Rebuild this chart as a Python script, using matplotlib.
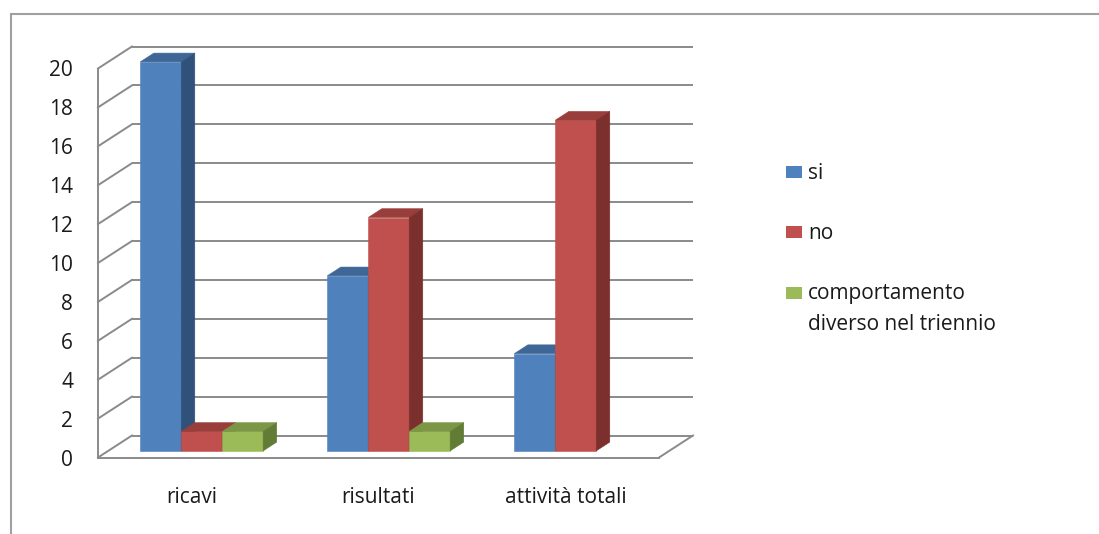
import matplotlib
matplotlib.use("Agg")
import matplotlib.pyplot as plt
from matplotlib.patches import Polygon, Rectangle

# ---- data -------------------------------------------------------------
categories = ["ricavi", "risultati", "attività totali"]
series_names = ["si", "no", "comportamento\ndiverso nel triennio"]
si = [20, 9, 5]
no = [1, 12, 17]
diverso = [1, 1, 0]
y_ticks = [0, 2, 4, 6, 8, 10, 12, 14, 16, 18, 20]

series = [si, no, diverso]
face_colors = ["#4F81BD", "#C0504D", "#9BBB59"]
top_colors = ["#3E6797", "#9A3E3B", "#7B9746"]
side_colors = ["#30517A", "#7C302E", "#617C35"]
grid_color = "#8A8A8A"
text_color = "#1A1A1A"

plt.rcParams["font.family"] = ["Open Sans", "DejaVu Sans"]
FS = 15

W, H = 1099, 534
fig = plt.figure(figsize=(W / 100, H / 100), dpi=100)

# pseudo-3D geometry (in data units): depth of the walls, bar slot
DX, DY = 0.1815, 1.131          # receding offset of the back wall
BAR_FRONT, BAR_BACK = 0.3, 0.7  # bar depth as a fraction of the wall depth
BW = 0.219                      # bar width in category units
Y_TOP = 21.2

# axes placed so that one value unit and one category unit have fixed pixel sizes
ax_left_px, ax_right_px, ax_base_px = 98, 693, 457.5
ax_h_px = Y_TOP * 19.45
ax = fig.add_axes([ax_left_px / W, (H - ax_base_px) / H,
                   (ax_right_px - ax_left_px) / W, ax_h_px / H])
ax.set_xlim(-0.5, len(categories) - 0.5 + DX)
ax.set_ylim(0, Y_TOP)
ax.patch.set_alpha(0)

# front edges of the walls come from the spines
for s in ("top", "right"):
    ax.spines[s].set_visible(False)
ax.spines["left"].set_bounds(0, y_ticks[-1])
ax.spines["bottom"].set_bounds(-0.5, len(categories) - 0.5)
for s in ("left", "bottom"):
    ax.spines[s].set_color(grid_color)
    ax.spines[s].set_linewidth(1.4)

ax.set_yticks(y_ticks)
ax.set_yticklabels([str(v) for v in y_ticks])
ax.set_xticks(range(len(categories)))
ax.set_xticklabels(categories)
ax.tick_params(axis="y", length=0, pad=18, labelsize=FS, labelcolor=text_color)
ax.tick_params(axis="x", length=0, pad=21, labelsize=FS, labelcolor=text_color)

# back wall gridlines and side wall diagonals
x_back0, x_back1 = -0.5 + DX, len(categories) - 0.5 + DX
for v in y_ticks:
    ax.plot([x_back0, x_back1], [v + DY, v + DY], color=grid_color, lw=1.4,
            zorder=1, clip_on=False, solid_capstyle="butt")
    ax.plot([-0.5, x_back0], [v, v + DY], color=grid_color, lw=1.4,
            zorder=1, clip_on=False)
# right edge of the floor
ax.plot([len(categories) - 0.5, x_back1], [0, DY], color=grid_color, lw=1.4,
        zorder=1, clip_on=False)

# bars: front face via ax.bar, top and side faces as polygons
fx, fy = BAR_FRONT * DX, BAR_FRONT * DY
dx, dy = (BAR_BACK - BAR_FRONT) * DX, (BAR_BACK - BAR_FRONT) * DY
z = 3.0
n = len(series)
for i in range(len(categories)):
    for j, vals in enumerate(series):
        v = vals[i]
        if v <= 0:
            continue
        x0 = i - n * BW / 2 + j * BW + fx
        y0 = fy
        ax.bar(x0, v, width=BW, bottom=y0, align="edge", color=face_colors[j],
               edgecolor=face_colors[j], linewidth=0.4, zorder=z)
        top = Polygon([(x0, y0 + v), (x0 + BW, y0 + v),
                       (x0 + BW + dx, y0 + v + dy), (x0 + dx, y0 + v + dy)],
                      closed=True, facecolor=top_colors[j],
                      edgecolor=top_colors[j], linewidth=0.4, zorder=z)
        side = Polygon([(x0 + BW, y0), (x0 + BW + dx, y0 + dy),
                        (x0 + BW + dx, y0 + v + dy), (x0 + BW, y0 + v)],
                       closed=True, facecolor=side_colors[j],
                       edgecolor=side_colors[j], linewidth=0.4, zorder=z)
        ax.add_patch(top)
        ax.add_patch(side)
        z += 0.01

# legend: square beside the first line of each label
leg_x_px, leg_text_px = 786, 808
leg_base0, leg_step, line_px = 179, 60.3, 30
for j, name in enumerate(series_names):
    base = leg_base0 + j * leg_step
    last_base = base + (name.count("\n")) * line_px
    fig.add_artist(Rectangle((leg_x_px / W, 1 - (base - 1) / H), 16 / W, 12 / H,
                             transform=fig.transFigure, facecolor=face_colors[j],
                             edgecolor="none"))
    fig.text(leg_text_px / W, 1 - last_base / H, name, ha="left", va="baseline",
             fontsize=FS, color=text_color, linespacing=1.6)

# chart frame (left and top edges inside the image)
fig.add_artist(Rectangle((11 / W, -0.1), 1.2, 1 - 14 / H + 0.1,
                         transform=fig.transFigure, fill=False,
                         edgecolor="#A0A0A0", linewidth=1.5))

fig.savefig("out.png", dpi=100)
